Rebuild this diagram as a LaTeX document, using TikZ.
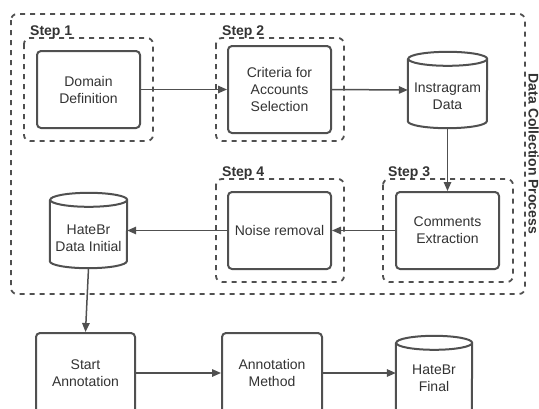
\documentclass[tikz,border=0pt]{standalone}
\usepackage{fontspec}
\setmainfont{Liberation Sans}
\usetikzlibrary{arrows.meta}
\definecolor{ln}{HTML}{505050}
\definecolor{tx}{HTML}{333333}
\tikzset{
  procbox/.style={draw=ln, line width=2pt, rounded corners=4pt, fill=white, text=tx,
    align=center, font=\fontsize{14}{17}\selectfont, inner sep=0pt},
  stepframe/.style={draw=ln, line width=1.8pt, dash pattern=on 5pt off 5pt, rounded corners=6pt},
  steplabel/.style={anchor=base west, text=tx, font=\bfseries\fontsize{14}{17}\selectfont, inner sep=0pt},
  cylbox/.style={draw=none, inner sep=0pt},
  cyltext/.style={text=tx, align=center, font=\fontsize{14}{17}\selectfont, inner sep=0pt},
  cylline/.style={draw=ln, line width=2pt, fill=white},
  conn/.style={draw=ln, line width=1.5pt, -{Triangle[length=9pt,width=7.5pt]}},
}
\newcommand\drawcyl[2]{% name, x radius
  \path[cylline] ([yshift=-7pt]#1.north west) -- ([yshift=7pt]#1.south west)
    arc[start angle=180,end angle=360,x radius=#2,y radius=7pt]
    -- ([yshift=-7pt]#1.north east)
    arc[start angle=0,end angle=180,x radius=#2,y radius=7pt]
    arc[start angle=180,end angle=360,x radius=#2,y radius=7pt];
}
\begin{document}
\begin{tikzpicture}[x=1pt,y=-1pt]
\useasboundingbox (0,0) rectangle (539,408);
\clip (0,0) rectangle (539,408);
\fill[white] (0,0) rectangle (539,408);

% outer frame
\draw[stepframe] (11,14) rectangle (525,294);
\node[text=tx, font=\bfseries\fontsize{14}{17}\selectfont, rotate=-90, anchor=base, inner sep=0pt] (dcp) at (528.5,154) {Data Collection Process};

% step frames
\draw[stepframe] (24,38) rectangle (153,141);
\node[steplabel] (s1) at (30,35) {Step 1};
\draw[stepframe] (216,38) rectangle (344,141);
\node[steplabel] (s2) at (222,35) {Step 2};
\draw[stepframe] (383,179) rectangle (513,282);
\node[steplabel] (s3) at (388,176) {Step 3};
\draw[stepframe] (216,179) rectangle (344,282);
\node[steplabel] (s4) at (222,176) {Step 4};

% process boxes
\node[procbox, minimum width=103pt, minimum height=77pt] (dom) at (88.5,89.5) {Domain\\Definition};
\node[procbox, minimum width=103pt, minimum height=87pt] (crit) at (279.5,89.5) {Criteria for\\Accounts\\Selection};
\node[procbox, minimum width=103pt, minimum height=77pt] (com) at (447.5,230.5) {Comments\\Extraction};
\node[procbox, minimum width=103pt, minimum height=77pt] (noise) at (279.5,230.5) {Noise removal};
\node[procbox, minimum width=99pt, minimum height=80pt] (start) at (85.5,373) {Start\\Annotation};
\node[procbox, minimum width=100pt, minimum height=80pt] (meth) at (272,373) {Annotation\\Method};

% cylinders
\node[cylbox, minimum width=79pt, minimum height=76pt] (ig) at (447.5,90) {};
\drawcyl{ig}{39.5pt}
\node[cyltext] (igt) at (447.5,96) {Instragram\\Data};

\node[cylbox, minimum width=77pt, minimum height=75pt] (hdi) at (88.5,230.5) {};
\drawcyl{hdi}{38.5pt}
\node[cyltext] (hdit) at (88.5,238) {HateBr\\Data Initial};

\node[cylbox, minimum width=76pt, minimum height=84pt] (hf) at (434,378) {};
\drawcyl{hf}{38pt}
\node[cyltext] (hft) at (434,378) {HateBr\\Final};

% connectors
\draw[conn] (dom.east) -- (crit.west);
\draw[conn] (crit.east) -- (ig.west);
\draw[conn] (ig.south) -- (com.north);
\draw[conn] (com.west) -- (noise.east);
\draw[conn] (noise.west) -- (hdi.east);
\draw[conn] (hdi.south) -- (start.north);
\draw[conn] (start.east) -- (start.east -| meth.west);
\draw[conn] (meth.east) -- (meth.east -| hf.west);
\end{tikzpicture}
\end{document}
